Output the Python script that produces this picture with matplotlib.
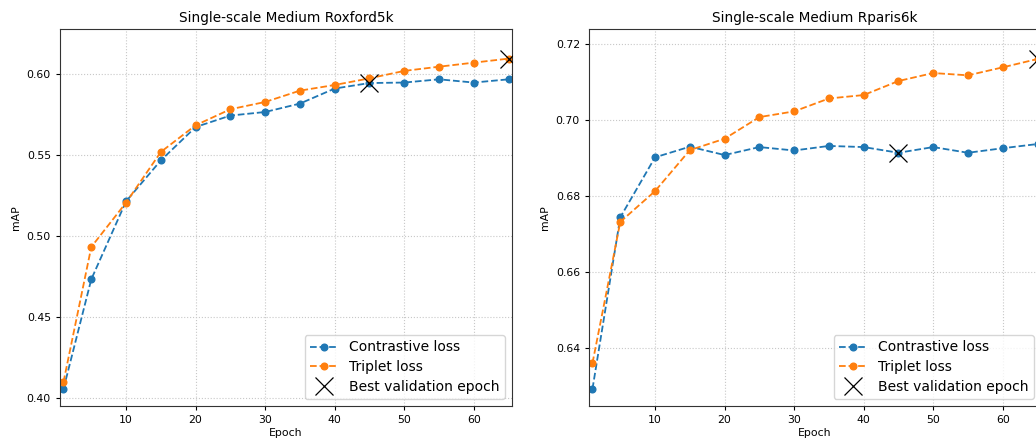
import matplotlib
matplotlib.use('Agg')
import matplotlib.pyplot as plt

epochs = [1, 5, 10, 15, 20, 25, 30, 35, 40, 45, 50, 55, 60, 65]

# Roxford5k (medium)
oxf_contrastive = [0.4055, 0.4733, 0.5215, 0.5468, 0.5674, 0.5745, 0.5767,
                   0.5819, 0.5912, 0.5946, 0.5949, 0.5969, 0.5949, 0.5969]
oxf_triplet = [0.4098, 0.4933, 0.5207, 0.5520, 0.5685, 0.5784, 0.5829,
               0.5899, 0.5934, 0.5975, 0.6021, 0.6047, 0.6072, 0.6097]

# Rparis6k (medium)
par_contrastive = [0.6292, 0.6744, 0.6902, 0.6930, 0.6908, 0.6929, 0.6920,
                   0.6932, 0.6929, 0.6914, 0.6929, 0.6914, 0.6926, 0.6937]
par_triplet = [0.6360, 0.6732, 0.6813, 0.6921, 0.6951, 0.7008, 0.7023,
               0.7057, 0.7066, 0.7103, 0.7124, 0.7118, 0.7139, 0.7161]

# best validation epochs (contrastive, triplet)
best_epochs = [45, 65]

W, H = 1036, 441
fig = plt.figure(figsize=(W / 100, H / 100), dpi=100)
ax1 = fig.add_axes([60 / W, 35 / H, 452 / W, 377 / H])
ax2 = fig.add_axes([589 / W, 35 / H, 452 / W, 377 / H])


def draw(ax, title, contrastive, triplet, ylim):
    ax.plot(epochs, contrastive, '--o', color='tab:blue', lw=1.3, ms=4.8,
            label='Contrastive loss')
    ax.plot(epochs, triplet, '--o', color='tab:orange', lw=1.3, ms=4.8,
            label='Triplet loss')
    bx = [best_epochs[0], best_epochs[1]]
    by = [contrastive[epochs.index(best_epochs[0])],
          triplet[epochs.index(best_epochs[1])]]
    ax.plot(bx, by, 'x', color='black', ms=13, mew=0.9,
            label='Best validation epoch', zorder=5)
    ax.set_title(title, fontsize=9.8, pad=5)
    ax.set_xlabel('Epoch', fontsize=7.8, labelpad=2)
    ax.set_ylabel('mAP', fontsize=7.8)
    ax.tick_params(labelsize=7.8, length=3, width=0.8)
    ax.set_xlim(0.5, 65.5)
    ax.set_ylim(*ylim)
    ax.grid(ls=':', lw=0.8, color='#c8c8c8')
    for s in ax.spines.values():
        s.set_color('#333333')
    ax.legend(loc='lower right', fontsize=10, handlelength=2.0,
              borderpad=0.4, labelspacing=0.4)


draw(ax1, 'Single-scale Medium Roxford5k', oxf_contrastive, oxf_triplet,
     (0.395, 0.628))
draw(ax2, 'Single-scale Medium Rparis6k', par_contrastive, par_triplet,
     (0.6247, 0.724))

fig.savefig('out.png', dpi=100)
